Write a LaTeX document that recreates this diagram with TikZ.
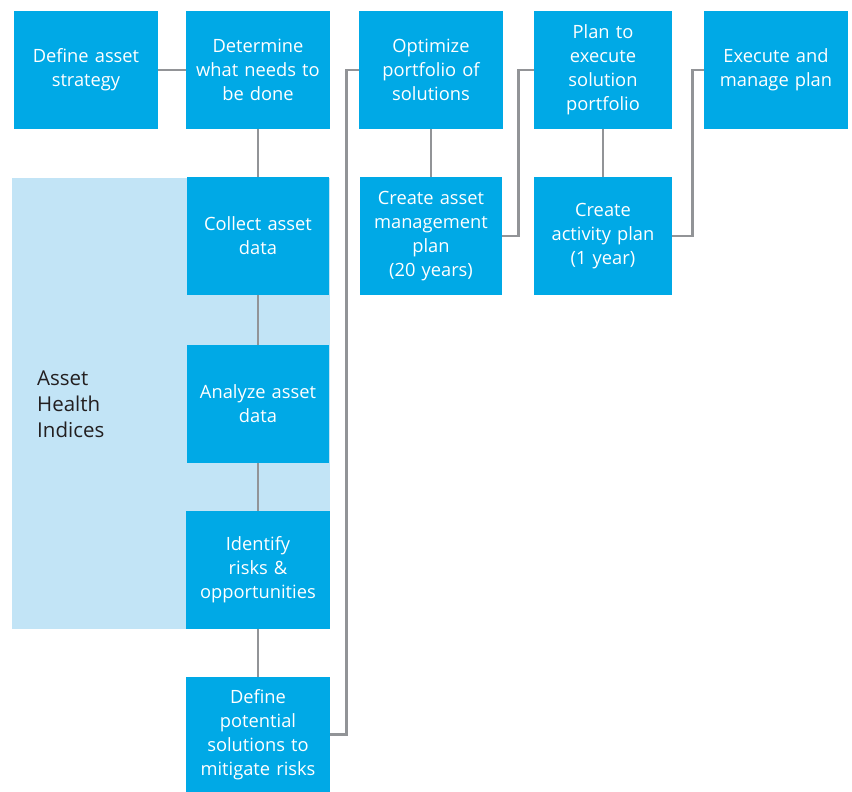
\documentclass[tikz,border=0pt]{standalone}
\usepackage{fontspec}
\setmainfont{Open Sans}
\definecolor{stepblue}{RGB}{0,169,230}
\definecolor{panelblue}{RGB}{194,228,246}
\definecolor{linkgray}{RGB}{146,148,151}
\definecolor{labeldark}{RGB}{35,31,32}
\begin{document}
\begin{tikzpicture}[x=1pt,y=-1pt,
    stepbox/.style={fill=stepblue, text=white, inner sep=0pt, minimum width=144pt,
      minimum height=118pt, text width=138pt, align=center,
      font=\fontsize{18.3}{24}\selectfont},
    link/.style={draw=linkgray, line width=2.8pt}]

      \useasboundingbox (0,0) rectangle (852,792);

      % Asset Health Indices panel
      \fill[panelblue] (12,178) rectangle (330,629);
      \node[anchor=west, inner sep=0pt, align=left, text=labeldark,
        font=\fontsize{20.5}{26}\selectfont] (hilabel) at (37,404) {Asset\\Health\\Indices};

      % Top row
      \node[stepbox] (strategy) at (86,70) {Define asset\\strategy};
      \node[stepbox] (determine) at (258,70) {Determine\\what needs to\\be done};
      \node[stepbox] (optimize) at (431,70) {Optimize\\portfolio of\\solutions};
      \node[stepbox, minimum width=138pt] (planexec) at (603,70) {Plan to\\execute\\solution\\portfolio};
      \node[stepbox] (execute) at (776,70) {Execute and\\manage plan};

      % Left column
      \node[stepbox, minimum width=142pt] (collect) at (258,236) {Collect asset\\data};
      \node[stepbox, minimum width=142pt] (analyze) at (258,404) {Analyze asset\\data};
      \node[stepbox] (identify) at (258,570) {Identify\\risks \&\\opportunities};
      \node[stepbox, minimum height=115pt] (solutions) at (258,734.5) {Define\\potential\\solutions to\\mitigate risks};

      % Plans
      \node[stepbox, minimum width=142pt] (amplan) at (431,236) {Create asset\\management\\plan\\(20 years)};
      \node[stepbox, minimum width=138pt] (actplan) at (603,236) {Create\\activity plan\\(1 year)};

      % Links
      \draw[link] (strategy) -- (determine);
      \draw[link] (determine) -- (collect);
      \draw[link] (collect) -- (analyze);
      \draw[link] (analyze) -- (identify);
      \draw[link] (identify) -- (solutions);
      \draw[link] (solutions.east) -- ++(16,0) |- (optimize.west);
      \draw[link] (optimize) -- (amplan);
      \draw[link] (amplan.east) -- ++(16,0) |- (planexec.west);
      \draw[link] (planexec) -- (actplan);
      \draw[link] (actplan.east) -- ++(20,0) |- (execute.west);

\end{tikzpicture}
\end{document}
